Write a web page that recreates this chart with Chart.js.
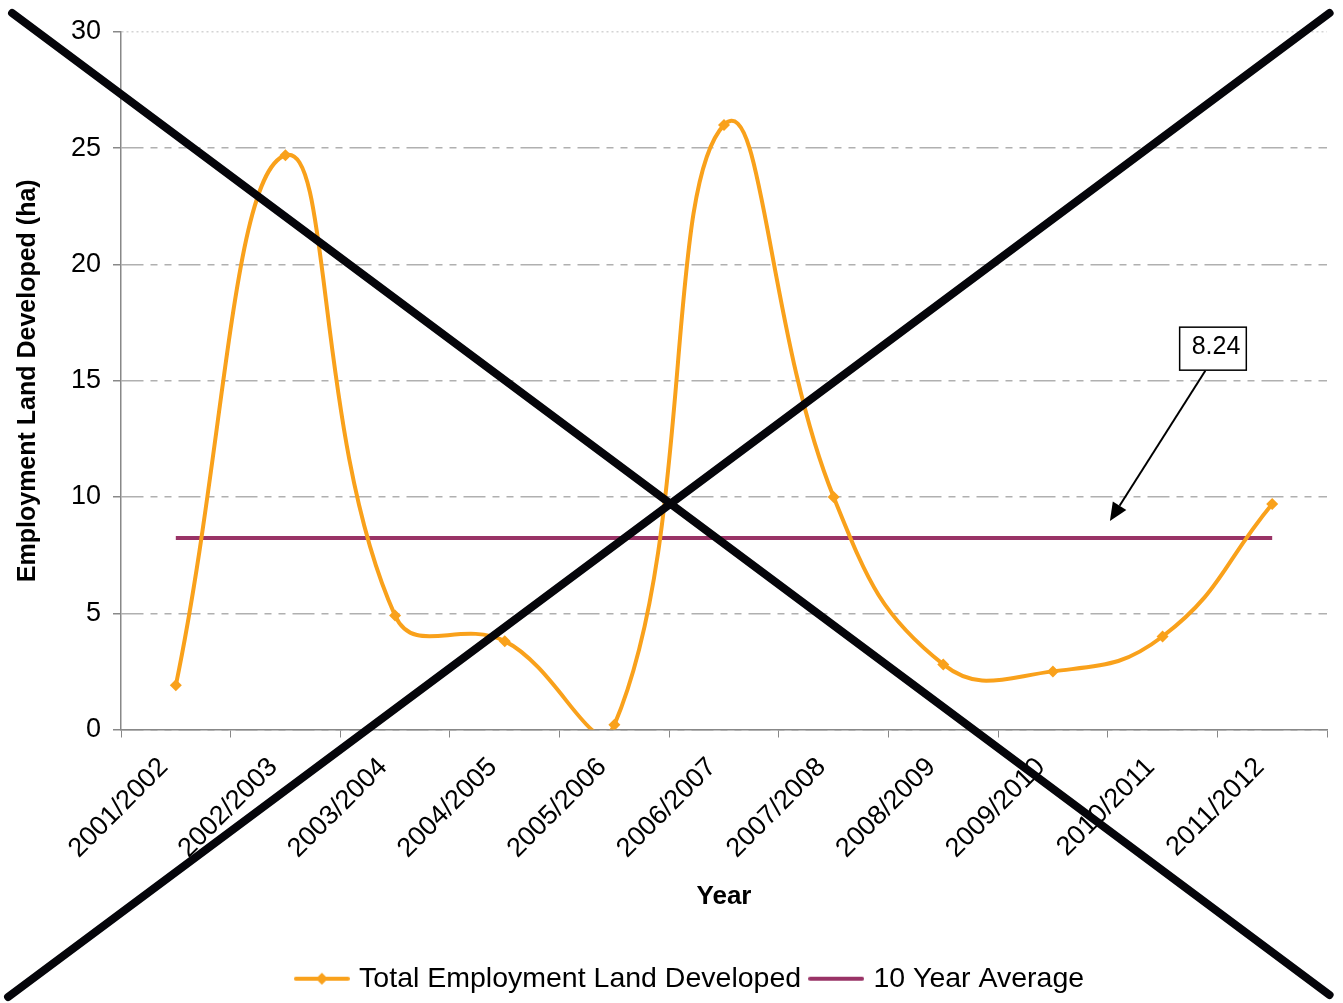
<!DOCTYPE html>
<html>
<head>
<meta charset="utf-8">
<script src="https://cdn.jsdelivr.net/npm/chart.js@4.4.1/dist/chart.umd.min.js"></script>
<style>
  html, body { margin: 0; padding: 0; background: #fff; }
  #wrap { width: 1343px; height: 1003px; }
</style>
</head>
<body>
<div id="wrap"><canvas id="landChart"></canvas></div>
<script>
// data
const years = ["2001/2002", "2002/2003", "2003/2004", "2004/2005", "2005/2006", "2006/2007",
               "2007/2008", "2008/2009", "2009/2010", "2010/2011", "2011/2012"];
const landDeveloped = [1.9, 24.7, 4.9, 3.8, 0.2, 26.0, 10.0, 2.8, 2.5, 4.0, 9.7];
const tenYearAverage = 8.24;
const averageLine = years.map(() => tenYearAverage);
const yTicks = [0, 5, 10, 15, 20, 25, 30];

// callout: box + arrow, in data units (category index, value)
const callout = { text: "8.24", boxX: 9.46, boxY: 16.38, tailX: 9.39, tailY: 15.43, tipX: 8.52, tipY: 8.97 };

const ORANGE = "#F9A11B";
const PURPLE = "#993366";
const FONT = "'Liberation Sans', Arial, sans-serif";

// legend icons (line, optional diamond)
function legendIcon(color, marker) {
  const c = document.createElement("canvas");
  c.width = 56; c.height = 16;
  const g = c.getContext("2d");
  g.strokeStyle = color; g.lineWidth = 4; g.lineCap = "round";
  g.beginPath(); g.moveTo(2, 8); g.lineTo(54, 8); g.stroke();
  if (marker) {
    g.fillStyle = color;
    g.beginPath(); g.moveTo(28, 2); g.lineTo(34, 8); g.lineTo(28, 14); g.lineTo(22, 8); g.closePath(); g.fill();
  }
  return c;
}

// legend sits a little right of the canvas centre in the original
const legendNudge = {
  id: "legendNudge",
  afterLayout(chart) {
    chart.legend.left += 28;
    chart.legend.right += 28;
  }
};

// big cross drawn over the whole figure
const crossOut = {
  id: "crossOut",
  afterDraw(chart) {
    const { ctx, width: w, height: h } = chart;
    ctx.save();
    ctx.strokeStyle = "#05050a";
    ctx.lineWidth = 8;
    ctx.lineCap = "round";
    ctx.beginPath();
    ctx.moveTo(w * 0.009, h * 0.013); ctx.lineTo(w * 0.99, h * 0.992);
    ctx.moveTo(w * 0.006, h * 0.994); ctx.lineTo(w * 0.99, h * 0.013);
    ctx.stroke();
    ctx.restore();
  }
};

// "8.24" callout with arrow
const averageCallout = {
  id: "averageCallout",
  afterDatasetsDraw(chart) {
    const { ctx, scales: { x, y } } = chart;
    const bx = x.getPixelForValue(callout.boxX), by = y.getPixelForValue(callout.boxY);
    const tx = x.getPixelForValue(callout.tailX), ty = y.getPixelForValue(callout.tailY);
    const px = x.getPixelForValue(callout.tipX), py = y.getPixelForValue(callout.tipY);
    ctx.save();
    ctx.font = "25px " + FONT;
    const tw = ctx.measureText(callout.text).width;
    const bw = tw + 18, bh = 43;
    ctx.fillStyle = "#fff";
    ctx.fillRect(bx - bw / 2, by - bh / 2, bw, bh);
    ctx.strokeStyle = "#000"; ctx.lineWidth = 1.5;
    ctx.strokeRect(bx - bw / 2, by - bh / 2, bw, bh);
    ctx.fillStyle = "#000"; ctx.textAlign = "center"; ctx.textBaseline = "middle";
    ctx.fillText(callout.text, bx + 3, by - 2);

    // arrow shaft
    const ang = Math.atan2(py - ty, px - tx);
    const head = 18, half = 8;
    const sx = px - Math.cos(ang) * head, sy = py - Math.sin(ang) * head;
    ctx.lineWidth = 2;
    ctx.beginPath(); ctx.moveTo(tx, ty); ctx.lineTo(sx, sy); ctx.stroke();
    ctx.beginPath();
    ctx.moveTo(px, py);
    ctx.lineTo(sx + Math.sin(ang) * half, sy - Math.cos(ang) * half);
    ctx.lineTo(sx - Math.sin(ang) * half, sy + Math.cos(ang) * half);
    ctx.closePath(); ctx.fill();
    ctx.restore();
  }
};

new Chart(document.getElementById("landChart"), {
  type: "line",
  data: {
    labels: years,
    datasets: [{
      label: "Total Employment Land Developed",
      data: landDeveloped,
      borderColor: ORANGE,
      backgroundColor: ORANGE,
      borderWidth: 4,
      tension: 0.45,
      capBezierPoints: false,
      pointStyle: "rectRot",
      pointRadius: 6,
      pointBackgroundColor: ORANGE,
      pointBorderWidth: 0,
      order: 1
    }, {
      label: "10 Year Average",
      data: averageLine,
      borderColor: PURPLE,
      backgroundColor: PURPLE,
      borderWidth: 4,
      pointRadius: 0,
      order: 2
    }]
  },
  options: {
    responsive: true,
    maintainAspectRatio: false,
    animation: false,
    layout: { padding: { top: 32, right: 16, left: 0, bottom: 0 } },
    plugins: {
      tooltip: { enabled: false },
      legend: {
        position: "bottom",
        labels: {
          color: "#000",
          font: { family: FONT, size: 28.5 },
          usePointStyle: true,
          pointStyleWidth: 46,
          boxHeight: 16,
          padding: 12,
          generateLabels: chart => chart.data.datasets.map((ds, i) => ({
            text: ds.label,
            pointStyle: legendIcon(ds.borderColor, i === 0),
            fillStyle: ds.borderColor,
            strokeStyle: ds.borderColor,
            lineWidth: 0,
            hidden: false,
            datasetIndex: i,
            fontColor: "#000"
          }))
        }
      }
    },
    scales: {
      x: {
        offset: true,
        afterFit: s => { s.height = 223; },
        grid: { offset: true, drawOnChartArea: false, drawTicks: true, tickLength: 8, color: "#888" },
        border: { color: "#888", width: 1.5 },
        ticks: { color: "#000", font: { family: FONT, size: 27 }, minRotation: 45, maxRotation: 45, autoSkip: false, padding: 14, labelOffset: -12 },
        title: { display: true, text: "Year", color: "#000", font: { family: FONT, size: 26, weight: "bold" }, padding: { top: 0, bottom: 40 } }
      },
      y: {
        min: 0,
        max: 30,
        afterFit: s => { s.width = 121; },
        afterBuildTicks: s => { s.ticks = yTicks.map(v => ({ value: v })); },
        grid: {
          color: c => c.tick && c.tick.value === 30 ? "#d4d4d4" : "#b0b0b0",
          lineWidth: 1.5,
          tickLength: 8,
          tickColor: "#888"
        },
        border: { color: "#888", width: 1.5, dash: c => c.tick && c.tick.value === 30 ? [2, 3] : [22, 7, 7, 7, 7, 7] },
        ticks: { color: "#000", font: { family: FONT, size: 27 }, padding: 12 },
        title: { display: true, text: "Employment Land Developed (ha)", color: "#000", font: { family: FONT, size: 25, weight: "bold" }, padding: { top: 13, bottom: 0 } }
      }
    }
  },
  plugins: [legendNudge, averageCallout, crossOut]
});
</script>
</body>
</html>
